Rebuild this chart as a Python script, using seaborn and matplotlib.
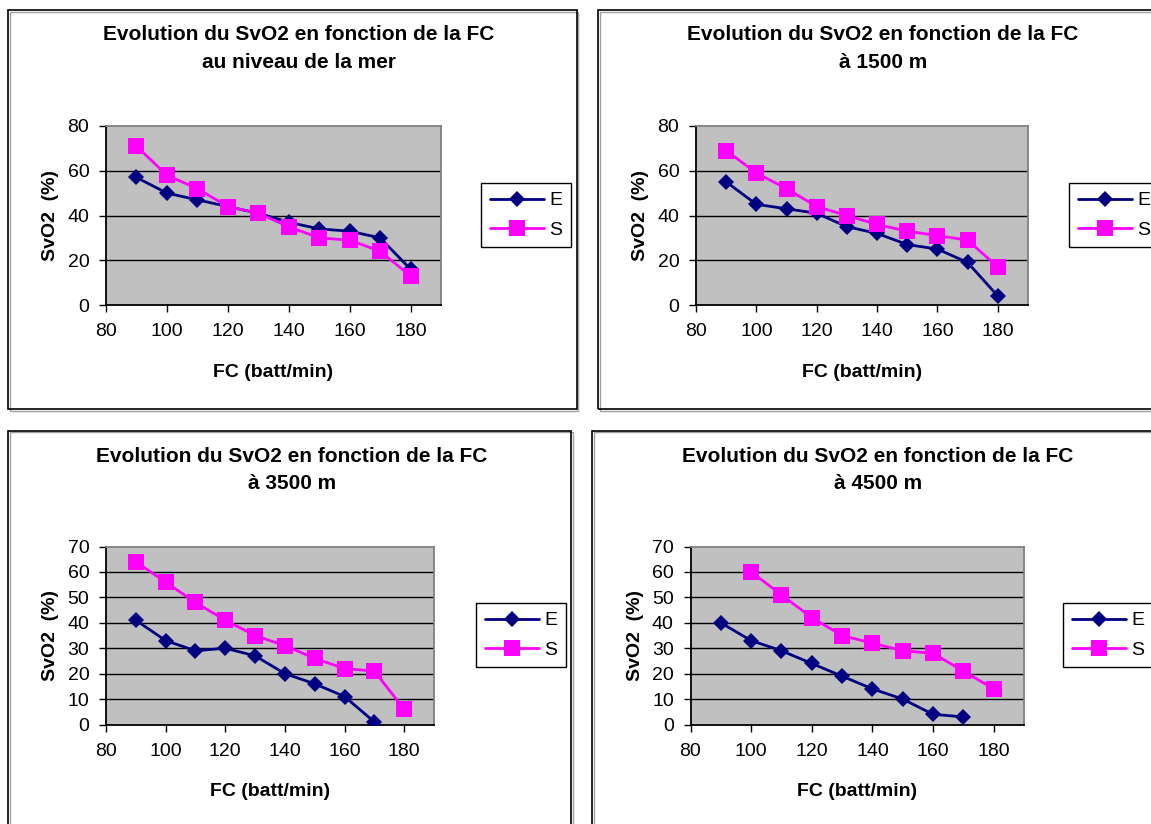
import numpy as np
import pandas as pd
import matplotlib
matplotlib.use("Agg")
import matplotlib.pyplot as plt
from matplotlib.patches import Rectangle
from matplotlib.lines import Line2D
import seaborn as sns

nan = np.nan

# Heart rate (x) shared by every panel
FC = [90, 100, 110, 120, 130, 140, 150, 160, 170, 180]

# SvO2 (%) for the two series in each altitude panel
mer_E = [57, 50, 47, 44, 41, 37, 34, 33, 30, 16]
mer_S = [71, 58, 52, 44, 41, 35, 30, 29, 24, 13]
m1500_E = [55, 45, 43, 41, 35, 32, 27, 25, 19, 4]
m1500_S = [69, 59, 52, 44, 40, 36, 33, 31, 29, 17]
m3500_E = [41, 33, 29, 30, 27, 20, 16, 11, 1, nan]
m3500_S = [64, 56, 48, 41, 35, 31, 26, 22, 21, 6]
m4500_E = [40, 33, 29, 24, 19, 14, 10, 4, 3, nan]
m4500_S = [nan, 60, 51, 42, 35, 32, 29, 28, 21, 14]

title_main = "Evolution du SvO2 en fonction de la FC"
subtitles = ["au niveau de la mer", "à 1500 m", "à 3500 m", "à 4500 m"]
series_names = ["E", "S"]
x_ticks = [80, 100, 120, 140, 160, 180]
y_ticks_top = [0, 20, 40, 60, 80]
y_ticks_bottom = [0, 10, 20, 30, 40, 50, 60, 70]
x_label = "FC (batt/min)"
y_label = "SvO2  (%)"

W, H = 1151, 824
sns.set_theme(style="white")
plt.rcParams["font.family"] = ["Liberation Sans", "DejaVu Sans"]
plt.rcParams["text.color"] = "black"
plt.rcParams["axes.labelcolor"] = "black"
plt.rcParams["xtick.color"] = "black"
plt.rcParams["ytick.color"] = "black"

fig = plt.figure(figsize=(W / 100, H / 100), dpi=100)
fig.patch.set_facecolor("white")


def fx(x):
    return x / W


def fy(y):
    return 1 - y / H


def axes_px(left, top, right, bottom):
    return fig.add_axes([fx(left), fy(bottom), fx(right - left), (bottom - top) / H])


# chart frames (left, top, right, bottom) in pixels
frames = [(8, 10, 576.5, 409), (598, 10, 1175, 409),
          (8, 431, 571, 850), (592, 431, 1175, 850)]
for (l, t, r, b) in frames:
    fig.patches.append(Rectangle((fx(l + 1.5), fy(b + 1.5)), fx(r - l), (b - t) / H,
                                 transform=fig.transFigure, fill=False,
                                 edgecolor="#a0a0a0", linewidth=1.0, zorder=0))
    fig.patches.append(Rectangle((fx(l), fy(b)), fx(r - l), (b - t) / H,
                                 transform=fig.transFigure, fill=False,
                                 edgecolor="black", linewidth=1.2, zorder=1))

plot_boxes = [(106, 126, 441, 305), (696, 126, 1028, 305),
              (106, 546.5, 434, 724.5), (690.5, 546.5, 1024, 724.5)]
title_pos = [(299, 35, 63), (883, 35, 63), (292, 457, 484), (878, 457, 484)]
legend_pos = [(481, 183), (1069, 183), (476, 603), (1063, 603)]
panels = [(mer_E, mer_S), (m1500_E, m1500_S), (m3500_E, m3500_S), (m4500_E, m4500_S)]

navy = "#000080"
magenta = "#FF00FF"
lw = 2.0
ms_E = 8.2
ms_S = 11.0

for i, (vals_E, vals_S) in enumerate(panels):
    ax = axes_px(*plot_boxes[i])
    ax.set_facecolor("#C0C0C0")
    df_E = pd.DataFrame({"FC": FC, "SvO2": vals_E})
    df_S = pd.DataFrame({"FC": FC, "SvO2": vals_S})
    sns.lineplot(data=df_E, x="FC", y="SvO2", ax=ax, color=navy, marker="D",
                 markersize=ms_E, markeredgewidth=0, linewidth=lw, zorder=3)
    sns.lineplot(data=df_S, x="FC", y="SvO2", ax=ax, color=magenta, marker="s",
                 markersize=ms_S, markeredgewidth=0, linewidth=lw, zorder=4)

    yt = y_ticks_top if i < 2 else y_ticks_bottom
    ax.set_xlim(80, 190)
    ax.set_ylim(yt[0], yt[-1])
    ax.set_xticks(x_ticks)
    ax.set_yticks(yt)
    ax.set_xticklabels([str(v) for v in x_ticks])
    ax.set_yticklabels([str(v) for v in yt])
    for v in yt[1:-1]:
        ax.axhline(v, color="black", linewidth=1.0, zorder=1)
    ax.grid(False)
    ax.tick_params(axis="both", which="both", direction="out", length=5, width=1,
                   color="black", labelsize=14, labelcolor="black",
                   bottom=True, left=True)
    ax.tick_params(axis="x", pad=8)
    ax.tick_params(axis="y", pad=7)
    for side in ["left", "bottom"]:
        ax.spines[side].set_color("black")
        ax.spines[side].set_linewidth(1.3)
    for side in ["top", "right"]:
        ax.spines[side].set_color("#808080")
        ax.spines[side].set_linewidth(1.3)
    ax.set_xlabel(x_label, fontsize=14, fontweight="bold", labelpad=17, color="black")
    ax.set_ylabel(y_label, fontsize=14, fontweight="bold", labelpad=6, color="black")

    tx, ty1, ty2 = title_pos[i]
    fig.text(fx(tx), fy(ty1), title_main, ha="center", va="center",
             fontsize=15, fontweight="bold", color="black")
    fig.text(fx(tx), fy(ty2), subtitles[i], ha="center", va="center",
             fontsize=15, fontweight="bold", color="black")

    handles = [Line2D([], [], color=navy, marker="D", markersize=ms_E,
                      markeredgewidth=0, linewidth=lw),
               Line2D([], [], color=magenta, marker="s", markersize=ms_S,
                      markeredgewidth=0, linewidth=lw)]
    lx, ly = legend_pos[i]
    leg = ax.legend(handles, series_names, loc="upper left",
                    bbox_to_anchor=(fx(lx), fy(ly)), bbox_transform=fig.transFigure,
                    frameon=True, fancybox=False, framealpha=1, edgecolor="black",
                    fontsize=14, handlelength=2.8, handletextpad=0.25,
                    borderpad=0.45, labelspacing=0.6, borderaxespad=0)
    leg.get_frame().set_linewidth(1.0)
    for t in leg.get_texts():
        t.set_color("black")

fig.savefig("out.png", dpi=100, facecolor="white")
